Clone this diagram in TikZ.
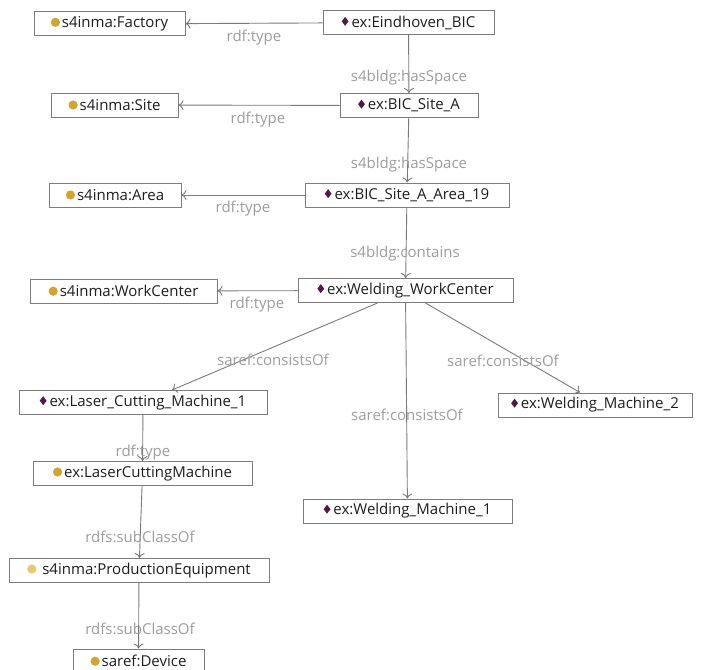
\documentclass[tikz,border=0pt]{standalone}
\usepackage{fontspec}
\setmainfont{Open Sans}
\usetikzlibrary{arrows.meta}

\definecolor{clsgold}{HTML}{D6A42E}
\definecolor{clspale}{HTML}{E8C775}
\definecolor{indpurple}{HTML}{55164C}
\definecolor{edgegray}{HTML}{7A7A7A}
\definecolor{labelgray}{HTML}{9C9C9C}
\definecolor{boxgray}{HTML}{7C7C7C}
\definecolor{txtgray}{HTML}{1E1E1E}

\newcommand{\clsdot}[1][clsgold]{\tikz[baseline=0pt]\fill[#1] (0,0.36em) circle (4.6pt);\hspace{2pt}}
\newcommand{\inddot}{\tikz[baseline=0pt]\fill[indpurple] (0,0.08em) -- (3.4pt,0.38em) -- (0,0.68em) -- (-3.4pt,0.38em) -- cycle;\hspace{3pt}}

\tikzset{
    entity/.style={draw=boxgray, line width=1pt, fill=white, text=txtgray,
        minimum height=24pt, inner xsep=6pt, font=\fontsize{15}{18}\selectfont},
    relname/.style={text=labelgray, inner sep=0pt, font=\fontsize{15}{18}\selectfont},
    rel/.style={draw=edgegray, line width=0.9pt, -{To[length=5pt,width=10pt]}}
}

\begin{document}
\begin{tikzpicture}[x=1pt, y=-1pt]
    \useasboundingbox (0,0) rectangle (701,669);
    % classes
    \node[entity, minimum width=151pt] (factory) at (109.5,24) {\clsdot s4inma:Factory};
    \node[entity, minimum width=127pt] (site) at (114.5,105) {\clsdot s4inma:Site};
    \node[entity, minimum width=132pt] (area) at (115,195) {\clsdot s4inma:Area};
    \node[entity, minimum width=187pt] (workcenter) at (123.5,291) {\clsdot s4inma:WorkCenter};
    \node[entity, minimum width=219pt] (lcmclass) at (142.5,473.5) {\clsdot ex:LaserCuttingMachine};
    \node[entity, minimum width=260pt] (prodequip) at (139,570.5) {\clsdot[clspale] s4inma:ProductionEquipment};
    \node[entity, minimum width=131pt] (device) at (138.5,661) {\clsdot saref:Device};
    % individuals
    \node[entity, minimum width=171pt] (eindhoven) at (408.5,22.5) {\inddot ex:Eindhoven\_BIC};
    \node[entity, minimum width=138pt] (sitea) at (409,105.5) {\inddot ex:BIC\_Site\_A};
    \node[entity, minimum width=204pt] (area19) at (407,195) {\inddot ex:BIC\_Site\_A\_Area\_19};
    \node[entity, minimum width=215pt] (weldwc) at (405.5,290.5) {\inddot ex:Welding\_WorkCenter};
    \node[entity, minimum width=248pt] (laser1) at (143,402.5) {\inddot ex:Laser\_Cutting\_Machine\_1};
    \node[entity, minimum width=194pt] (weld2) at (595,405) {\inddot ex:Welding\_Machine\_2};
    \node[entity, minimum width=209pt] (weld1) at (407.5,511) {\inddot ex:Welding\_Machine\_1};

    % relations
    \draw[rel] (eindhoven) -- (factory);
    \draw[rel] (eindhoven) -- (sitea);
    \draw[rel] (sitea) -- (site);
    \draw[rel] (sitea) -- (area19);
    \draw[rel] (area19) -- (area);
    \draw[rel] (area19) -- (weldwc);
    \draw[rel] (weldwc) -- (workcenter);
    \draw[rel] ([xshift=-28pt]weldwc.south) -- ([xshift=29pt]laser1.north);
    \draw[rel] (weldwc) -- (weld1);
    \draw[rel] ([xshift=20pt]weldwc.south) -- ([xshift=-15pt]weld2.north);
    \draw[rel] (laser1) -- (lcmclass);
    \draw[rel] (lcmclass) -- (prodequip);
    \draw[rel] (prodequip) -- (device);

    % relation names
    \node[relname] (t1) at (254,38) {rdf:type};
    \node[relname] (h1) at (409,78) {s4bldg:hasSpace};
    \node[relname] (t2) at (258,120) {rdf:type};
    \node[relname] (h2) at (409,165) {s4bldg:hasSpace};
    \node[relname] (t3) at (243,209) {rdf:type};
    \node[relname] (c1) at (405,254) {s4bldg:contains};
    \node[relname] (t4) at (257,305) {rdf:type};
    \node[relname] (s1) at (273,360) {saref:consistsOf};
    \node[relname] (s2) at (503,361) {saref:consistsOf};
    \node[relname] (s3) at (407,415) {saref:consistsOf};
    \node[relname] (t5) at (143,453) {rdf:type};
    \node[relname] (u1) at (140,537) {rdfs:subClassOf};
    \node[relname] (u2) at (140,629) {rdfs:subClassOf};
\end{tikzpicture}
\end{document}
